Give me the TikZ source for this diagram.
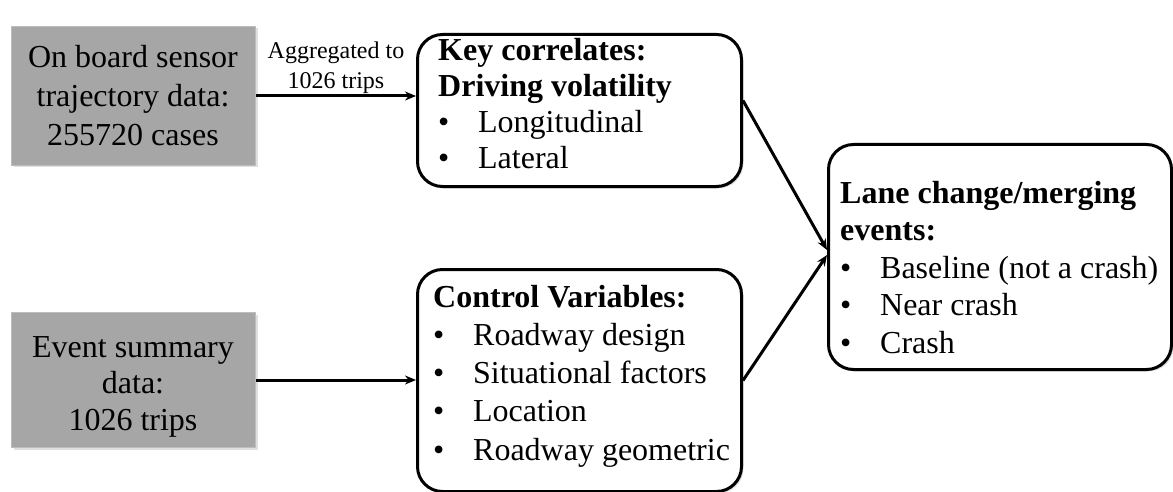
\documentclass[tikz,border=0pt]{standalone}
\usepackage{fontspec}
\setmainfont{Liberation Serif}
\usetikzlibrary{arrows.meta,shadows}
\definecolor{boxgray}{HTML}{A6A6A6}
\definecolor{grayedge}{HTML}{BDBDBD}
\newcommand{\blt}{\makebox[40pt][l]{\textbullet}}
\newcommand{\firstln}[1]{\rule{0pt}{#1}}
\begin{document}
\begin{tikzpicture}[x=1pt,y=-1pt,
  graybox/.style={fill=boxgray, draw=grayedge, line width=1pt, inner sep=0, anchor=north west,
    drop shadow={shadow xshift=2pt,shadow yshift=-2pt,opacity=0.25}},
  roundbox/.style={draw=black, fill=white, line width=3pt, rounded corners=25pt,
    inner sep=0, anchor=north west,
    drop shadow={shadow xshift=2pt,shadow yshift=-2pt,opacity=0.25}},
  txt/.style={inner sep=0, anchor=north west, align=left},
  ctxt/.style={inner sep=0, anchor=north, align=center},
  conn/.style={line width=3pt, -{Stealth[length=11pt,width=9pt]}}]
\useasboundingbox (0,0) rectangle (1173,492);

% boxes
\node[graybox, minimum width=244pt, minimum height=139pt] (g1) at (11,26) {};
\node[graybox, minimum width=244pt, minimum height=135pt] (g2) at (11,312) {};
\node[roundbox, minimum width=324pt, minimum height=152pt] (top) at (416,33) {};
\node[roundbox, minimum width=324pt, minimum height=222pt] (bot) at (416,268) {};
\node[roundbox, minimum width=343pt, minimum height=225pt] (right) at (827,143) {};

% texts
\node[ctxt, font=\fontsize{32}{39}\selectfont] (g1t) at (133,43)
  {\firstln{24pt}On board sensor\\trajectory data:\\255720 cases};
\node[ctxt, font=\fontsize{32}{36.5}\selectfont] (g2t) at (133,333)
  {\firstln{24pt}Event summary\\data:\\1026 trips};
\node[txt, font=\fontsize{32}{36.2}\selectfont] (topt) at (438,36)
  {\firstln{24pt}\textbf{Key correlates:}\\\textbf{Driving volatility}\\\blt Longitudinal\\\blt Lateral};
\node[txt, font=\fontsize{32}{38.25}\selectfont] (bott) at (433,283)
  {\firstln{24pt}\textbf{Control Variables:}\\\blt Roadway design\\\blt Situational factors\\\blt Location\\\blt Roadway geometric};
\node[txt, font=\fontsize{32}{37.5}\selectfont] (rightt) at (840,179)
  {\firstln{24pt}\textbf{Lane change/merging}\\\textbf{events:}\\\blt Baseline (not a crash)\\\blt Near crash\\\blt Crash};
\node[ctxt, font=\fontsize{24}{30}\selectfont] (agg) at (336,40)
  {\firstln{18pt}Aggregated to\\1026 trips};

% connectors
\draw[conn] (g1.east) -- (g1.east -| top.west);
\draw[conn] (g2.east) -- (g2.east -| bot.west);
\draw[conn] ([yshift=10pt]top.east) -- ([yshift=7pt]right.west);
\draw[conn] (bot.east) -- ([yshift=2pt]right.west);
\end{tikzpicture}
\end{document}
